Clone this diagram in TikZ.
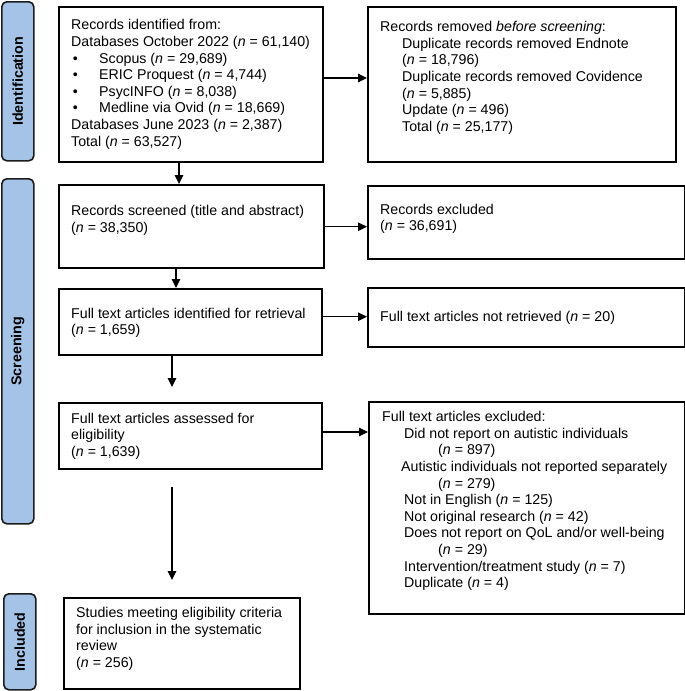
\documentclass[tikz,border=0pt]{standalone}
\usepackage{fontspec}
\setmainfont{Liberation Sans}
\usetikzlibrary{arrows.meta}
\definecolor{sidefill}{RGB}{164,195,230}
\definecolor{sidedraw}{RGB}{28,28,28}
\tikzset{
  box/.style={draw=black, line width=1.6pt, anchor=north west, inner sep=0pt},
  sidebox/.style={draw=sidedraw, fill=sidefill, line width=1.6pt, rounded corners=5pt, anchor=north west, inner sep=0pt},
  sidelabel/.style={rotate=90, font=\fontsize{14.3pt}{16pt}\selectfont\bfseries, inner sep=0pt},
  txt/.style={anchor=north west, align=left, inner sep=0pt, font=\fontsize{14.2pt}{16.6pt}\selectfont},
  arr/.style={line width=1.3pt, -{Triangle[length=9pt,width=8.5pt]}}
}
\newcommand{\nn}{\textit{n}}
\newcommand{\bul}{\makebox[28pt][l]{\hspace*{1.6pt}\textbullet}}
\begin{document}
\begin{tikzpicture}[x=1pt,y=-1pt]
\useasboundingbox (0,0) rectangle (685,691);
% side boxes
\node[sidebox, minimum width=32pt, minimum height=159pt] (sid) at (1,1) {};
\node[sidelabel] (sidl) at (sid.center) {Identification};
\node[sidebox, minimum width=32pt, minimum height=345pt] (sscr) at (1,178) {};
\node[sidelabel] (sscrl) at (sscr.center) {Screening};
\node[sidebox, minimum width=32pt, minimum height=96pt] (sinc) at (3,593) {};
\node[sidelabel] (sincl) at (sinc.center) {Included};
% left boxes
\node[box, minimum width=264pt, minimum height=155pt] (b1) at (58,6) {};
\node[txt] (b1t) at (71,19.5) {Records identified from:\\
Databases October 2022 (\nn{} = 61,140)\\
\bul Scopus (\nn{} = 29,689)\\
\bul ERIC Proquest (\nn{} = 4,744)\\
\bul PsycINFO (\nn{} = 8,038)\\
\bul Medline via Ovid (\nn{} = 18,669)\\
Databases June 2023 (\nn{} = 2,387)\\
Total (\nn{} = 63,527)};
\node[box, minimum width=265pt, minimum height=83pt] (b2) at (58,184) {};
\node[txt] (b2t) at (71,205.2) {Records screened (title and abstract)\\(\nn{} = 38,350)};
\node[box, minimum width=263pt, minimum height=66pt] (b3) at (58,288) {};
\node[txt] (b3t) at (71,307.7) {Full text articles identified for retrieval\\(\nn{} = 1,659)};
\node[box, minimum width=263pt, minimum height=66pt] (b4) at (58,402) {};
\node[txt] (b4t) at (71,412.7) {Full text articles assessed for\\eligibility\\(\nn{} = 1,639)};
\node[box, minimum width=236pt, minimum height=91pt] (b5) at (63,597) {};
\node[txt] (b5t) at (76,607.2) {Studies meeting eligibility criteria\\for inclusion in the systematic\\review\\(\nn{} = 256)};
% right boxes
\node[box, minimum width=308pt, minimum height=155pt] (r1) at (367,6) {};
\node[txt] (r1t) at (380,21.2) {Records removed \textit{before screening}:\\
\hspace*{22pt}Duplicate records removed Endnote\\
\hspace*{22pt}(\nn{} = 18,796)\\
\hspace*{22pt}Duplicate records removed Covidence\\
\hspace*{22pt}(\nn{} = 5,885)\\
\hspace*{22pt}Update (\nn{} = 496)\\
\hspace*{22pt}Total (\nn{} = 25,177)};
\node[box, minimum width=317pt, minimum height=73pt] (r2) at (367,185) {};
\node[txt] (r2t) at (380,203.7) {Records excluded\\(\nn{} = 36,691)};
\node[box, minimum width=317pt, minimum height=59pt] (r3) at (367,287) {};
\node[txt] (r3t) at (380,311.2) {Full text articles not retrieved (\nn{} = 20)};
\node[box, minimum width=316pt, minimum height=212pt] (r4) at (368,401) {};
\node[txt] (r4t) at (382,411.2) {Full text articles excluded:\\
\hspace*{22pt}Did not report on autistic individuals\\
\hspace*{56pt}(\nn{} = 897)\\
\hspace*{19pt}Autistic individuals not reported separately\\
\hspace*{56pt}(\nn{} = 279)\\
\hspace*{22pt}Not in English (\nn{} = 125)\\
\hspace*{22pt}Not original research (\nn{} = 42)\\
\hspace*{22pt}Does not report on QoL and/or well-being\\
\hspace*{56pt}(\nn{} = 29)\\
\hspace*{22pt}Intervention/treatment study (\nn{} = 7)\\
\hspace*{22pt}Duplicate (\nn{} = 4)};
% connector helpers
\coordinate (h1) at (0,78);
\coordinate (h2) at (0,226.7);
\coordinate (h3) at (0,316.7);
\coordinate (h4) at (0,432);
\coordinate (v1) at (179,0);
\coordinate (v2) at (176,0);
\coordinate (c3) at (172,387);
\coordinate (c4) at (172,487);
\coordinate (c5) at (172,580);
% arrows
\draw[arr] (b1.east |- h1) -- (r1.west |- h1);
\draw[arr] (b2.east |- h2) -- (r2.west |- h2);
\draw[arr] (b3.east |- h3) -- (r3.west |- h3);
\draw[arr] (b4.east |- h4) -- (r4.west |- h4);
\draw[arr] (v1 |- b1.south) -- (v1 |- b2.north);
\draw[arr] (v2 |- b2.south) -- (v2 |- b3.north);
\draw[arr] (c3 |- b3.south) -- (c3);
\draw[arr] (c4) -- (c5);
\end{tikzpicture}
\end{document}
